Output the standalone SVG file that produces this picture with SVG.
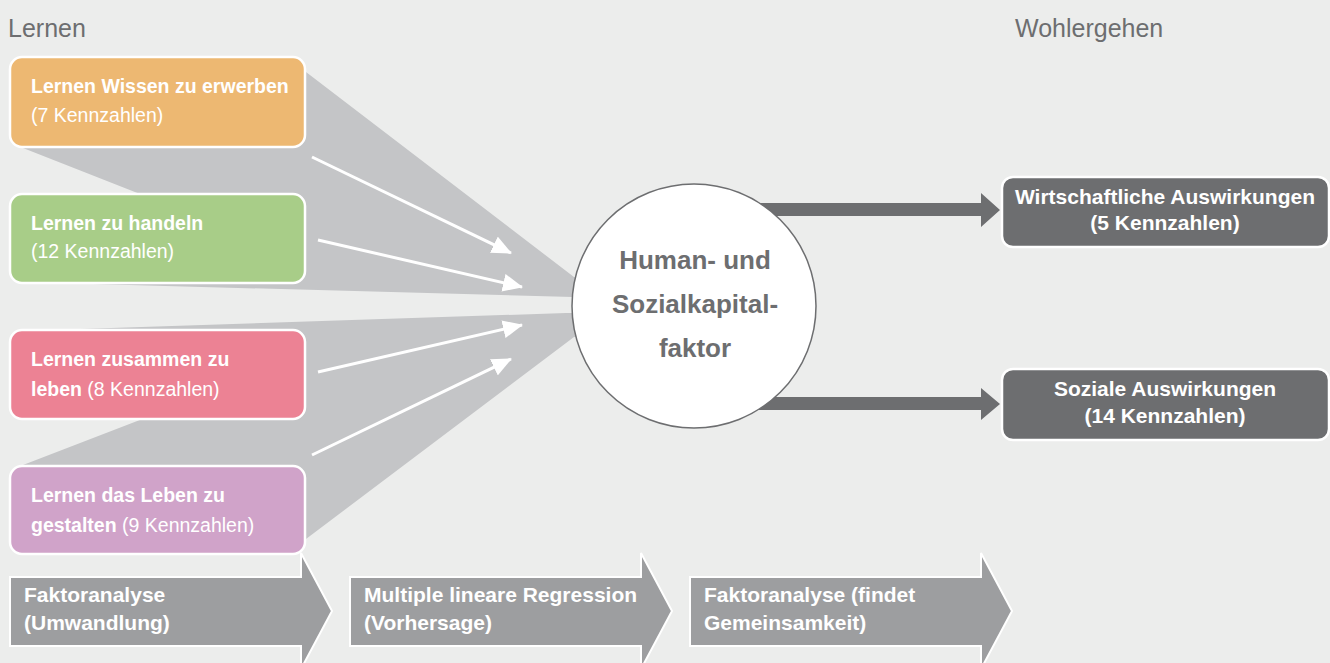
<svg xmlns="http://www.w3.org/2000/svg" width="1330" height="663" viewBox="0 0 1330 663">
<defs>
<style>
.bg{fill:#ecedec}
.funnel{fill:#c4c5c7}
.box{stroke:#ffffff;stroke-width:2.5}
.t{font-family:"Liberation Sans",Arial,sans-serif;fill:#ffffff}
.b{font-weight:bold}
.lt{font-size:19.5px}
.rt{font-size:21px;font-weight:bold;text-anchor:middle}
.st{font-size:21px;font-weight:bold}
.title{font-family:"Liberation Sans",Arial,sans-serif;font-size:25px;fill:#6d6e70}
.ct{font-family:"Liberation Sans",Arial,sans-serif;font-size:26px;font-weight:bold;fill:#6d6e70;text-anchor:middle}
.wline{stroke:#ffffff;stroke-width:3;fill:none}
.dark{fill:#6d6e70}
.step{fill:#9d9ea0;stroke:#ffffff;stroke-width:2}
</style>
<marker id="wh" markerUnits="userSpaceOnUse" markerWidth="20" markerHeight="18" viewBox="0 0 20 18" refX="19" refY="9" orient="auto">
<path d="M0,0 L20,9 L0,18 Z" fill="#ffffff"/>
</marker>
</defs>
<rect class="bg" x="0" y="0" width="1330" height="663"/>

<g id="funnel">
<polygon class="funnel" points="23,148 20,100 306,72 574,277 610,280 610,298 57,283 140,194"/>
<polygon class="funnel" points="23,465 145,418 50,330 566,313 610,313 610,332 574,337 306,539 20,510"/>
</g>

<g id="titles">
<text class="title" x="8" y="37">Lernen</text>
<text class="title" x="1015" y="37">Wohlergehen</text>
</g>

<g id="connectors">
<line class="wline" x1="312" y1="157" x2="511" y2="253" marker-end="url(#wh)"/>
<line class="wline" x1="318" y1="240" x2="522" y2="287" marker-end="url(#wh)"/>
<line class="wline" x1="318" y1="372" x2="522" y2="325" marker-end="url(#wh)"/>
<line class="wline" x1="312" y1="455" x2="511" y2="359" marker-end="url(#wh)"/>
<polygon class="dark" points="700,203 981,203 981,193 1000,210 981,227 981,216 700,216"/>
<polygon class="dark" points="700,397 981,397 981,388 1000,404 981,420 981,410 700,410"/>
</g>

<g id="box-wissen">
<rect class="box" x="10" y="57" width="295" height="90" rx="12" fill="#edb872"/>
<text class="t lt b" x="31" y="93">Lernen Wissen zu erwerben</text>
<text class="t lt" x="31" y="122">(7 Kennzahlen)</text>
</g>
<g id="box-handeln">
<rect class="box" x="10" y="194" width="295" height="89" rx="12" fill="#a8cd88"/>
<text class="t lt b" x="31" y="230">Lernen zu handeln</text>
<text class="t lt" x="31" y="258">(12 Kennzahlen)</text>
</g>
<g id="box-zusammen">
<rect class="box" x="10" y="330" width="295" height="89" rx="12" fill="#ec8294"/>
<text class="t lt b" x="31" y="366">Lernen zusammen zu</text>
<text class="t lt" x="31" y="396"><tspan class="b">leben</tspan> (8 Kennzahlen)</text>
</g>
<g id="box-gestalten">
<rect class="box" x="10" y="466" width="295" height="88" rx="12" fill="#d0a3c9"/>
<text class="t lt b" x="31" y="502">Lernen das Leben zu</text>
<text class="t lt" x="31" y="532"><tspan class="b">gestalten</tspan> (9 Kennzahlen)</text>
</g>

<g id="factor">
<circle cx="694" cy="306" r="122" fill="#ffffff" stroke="#6d6e70" stroke-width="1.5"/>
<text class="ct" x="695" y="269">Human- und</text>
<text class="ct" x="695" y="313">Sozialkapital-</text>
<text class="ct" x="695" y="357">faktor</text>
</g>

<g id="box-wirtschaft">
<rect class="box" x="1002" y="177" width="327" height="70" rx="11" fill="#6d6e70"/>
<text class="t rt" x="1165" y="204">Wirtschaftliche Auswirkungen</text>
<text class="t rt" x="1165" y="230">(5 Kennzahlen)</text>
</g>
<g id="box-sozial">
<rect class="box" x="1002" y="369" width="327" height="71" rx="11" fill="#6d6e70"/>
<text class="t rt" x="1165" y="396">Soziale Auswirkungen</text>
<text class="t rt" x="1165" y="423">(14 Kennzahlen)</text>
</g>

<g id="step-1">
<polygon class="step" points="10,577 301,577 301,553 332,611 301,669 301,646 10,646"/>
<text class="t st" x="24" y="602">Faktoranalyse</text>
<text class="t st" x="24" y="630">(Umwandlung)</text>
</g>
<g id="step-2">
<polygon class="step" points="350,577 641,577 641,553 672,611 641,669 641,646 350,646"/>
<text class="t st" x="364" y="602">Multiple lineare Regression</text>
<text class="t st" x="364" y="630">(Vorhersage)</text>
</g>
<g id="step-3">
<polygon class="step" points="690,577 981,577 981,553 1012,611 981,669 981,646 690,646"/>
<text class="t st" x="704" y="602">Faktoranalyse (findet</text>
<text class="t st" x="704" y="630">Gemeinsamkeit)</text>
</g>
</svg>
